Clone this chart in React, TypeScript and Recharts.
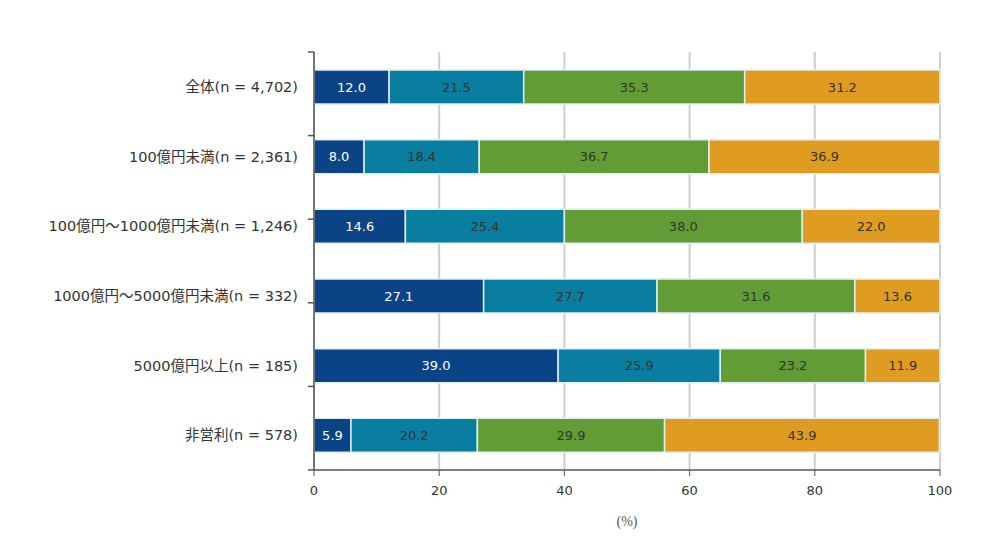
import React from 'react';
import { BarChart, Bar, XAxis, YAxis, CartesianGrid, LabelList } from 'recharts';

const categories = [
  '全体(n = 4,702)',
  '100億円未満(n = 2,361)',
  '100億円～1000億円未満(n = 1,246)',
  '1000億円～5000億円未満(n = 332)',
  '5000億円以上(n = 185)',
  '非営利(n = 578)',
];

const seriesA = [12.0, 8.0, 14.6, 27.1, 39.0, 5.9];
const seriesB = [21.5, 18.4, 25.4, 27.7, 25.9, 20.2];
const seriesC = [35.3, 36.7, 38.0, 31.6, 23.2, 29.9];
const seriesD = [31.2, 36.9, 22.0, 13.6, 11.9, 43.9];

const xTicks = [0, 20, 40, 60, 80, 100];
const bandTicks = [0, 1, 2, 3, 4, 5, 6];

const colors = ['#0b4387', '#0a7ea0', '#629c34', '#e09c20'];
const keys = ['a', 'b', 'c', 'd'];

const data = categories.map((name, i) => ({
  name,
  a: seriesA[i],
  b: seriesB[i],
  c: seriesC[i],
  d: seriesD[i],
}));

const font = '"DejaVu Sans", "Noto Sans CJK JP", sans-serif';
const fmt = (v: any) => Number(v).toFixed(1);

// empty tick: keeps the tick lines of the band axis, no labels
const NoLabel = () => <g />;

export default function App() {
  return (
    <div style={{ position: 'absolute', left: 0, top: 0, width: 1000, height: 539, background: '#fff', fontFamily: font }}>
      <BarChart
        width={1000}
        height={539}
        data={data}
        layout="vertical"
        margin={{ top: 52, right: 60, bottom: 9, left: 0 }}
        barCategoryGap={0}
      >
        <CartesianGrid horizontal={false} stroke="#cfcfcf" strokeWidth={2} xAxisId="x" yAxisId="cat" />
        <XAxis
          xAxisId="x"
          type="number"
          domain={[0, 100]}
          ticks={xTicks}
          height={60}
          axisLine={{ stroke: '#555', strokeWidth: 1.5 }}
          tickLine={{ stroke: '#555' }}
          tickSize={6}
          tickMargin={10}
          tick={{ fill: '#333', fontSize: 13, fontFamily: font }}
          label={{ value: '(%)', position: 'insideBottom', offset: 4, fill: '#555', fontSize: 14, fontFamily: '"Liberation Serif", serif' }}
        />
        <YAxis
          yAxisId="cat"
          type="category"
          dataKey="name"
          width={308}
          axisLine={false}
          tickLine={false}
          tickMargin={4}
          tick={{ fill: '#333', fontSize: 14.5, fontFamily: font }}
        />
        <YAxis
          yAxisId="band"
          type="number"
          domain={[0, 6]}
          ticks={bandTicks}
          interval={0}
          width={6}
          tick={<NoLabel />}
          tickSize={6}
          axisLine={{ stroke: '#555', strokeWidth: 1.5 }}
          tickLine={{ stroke: '#555', strokeWidth: 1.5 }}
          allowDataOverflow
        />
        {keys.map((k, i) => (
          <Bar
            key={k}
            dataKey={k}
            stackId="s"
            xAxisId="x"
            yAxisId="cat"
            fill={colors[i]}
            stroke="#dff0f2"
            strokeWidth={1.5}
            barSize={34}
            isAnimationActive={false}
          >
            <LabelList
              dataKey={k}
              position="center"
              formatter={fmt}
              fill={i === 0 ? '#ffffff' : '#333333'}
              fontSize={13}
              fontFamily={font}
            />
          </Bar>
        ))}
      </BarChart>
    </div>
  );
}
